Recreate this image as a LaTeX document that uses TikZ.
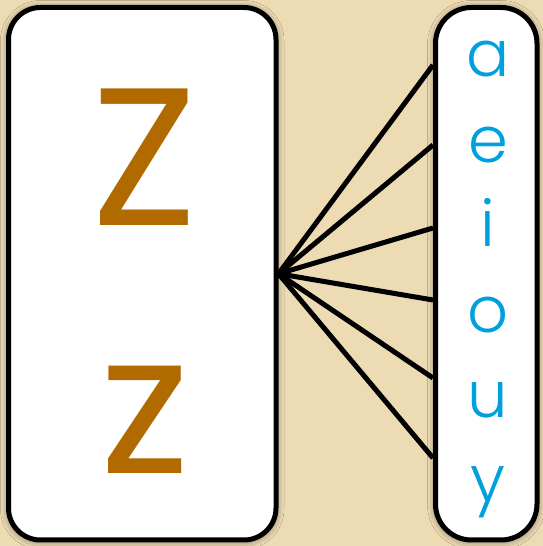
\documentclass[tikz,border=0pt]{standalone}
\usepackage{fontspec}
\setmainfont{Poppins}[UprightFont=* Light]
\newfontfamily\bigfont{Poppins}
\usepackage{xcolor}
\usetikzlibrary{positioning,calc,shadows.blur}
\definecolor{paper}{RGB}{237,219,179}
\definecolor{brown}{RGB}{176,106,0}
\definecolor{skyblue}{RGB}{0,160,220}

\begin{document}
\begin{tikzpicture}[x=1pt,y=1pt,
  box/.style={draw,line width=5pt,rounded corners=#1,fill=white,
    blur shadow={shadow xshift=0pt,shadow yshift=-1pt,shadow blur radius=8pt,shadow opacity=55}},
  big/.style={text=brown,font=\bigfont\fontsize{196}{196}\selectfont,inner sep=0pt,anchor=base},
  vowel/.style={text=skyblue,font=\fontsize{64}{64}\selectfont,inner sep=0pt,anchor=base},
  link/.style={line width=5pt}
]
  \fill[paper] (0,0) rectangle (543,546);
  \useasboundingbox (0,0) rectangle (543,546);

  \node[box=32pt, minimum width=267.5pt, minimum height=532.5pt] (lbox) at (142.25,272.25) {};
  \node[box=36pt, minimum width=101.5pt, minimum height=532.5pt] (rbox) at (486.25,272.25) {};

  \node[big] (upZ) at (145,320) {Z};
  \node[big] (loZ) at (145,72) {z};

  \foreach \ch/\y [count=\i] in {a/77,e/163,i/247,o/333,u/418,y/502} {
    \node[vowel] (v\i) at (488,546-\y) {\ch};
  }

  \foreach \dy [count=\i] in {208.75,128.75,45.75,-26.25,-104.25,-184.25} {
    \coordinate (e\i) at ([yshift=\dy pt]rbox.west);
    \draw[link] (lbox.east) -- (e\i);
  }
\end{tikzpicture}
\end{document}
